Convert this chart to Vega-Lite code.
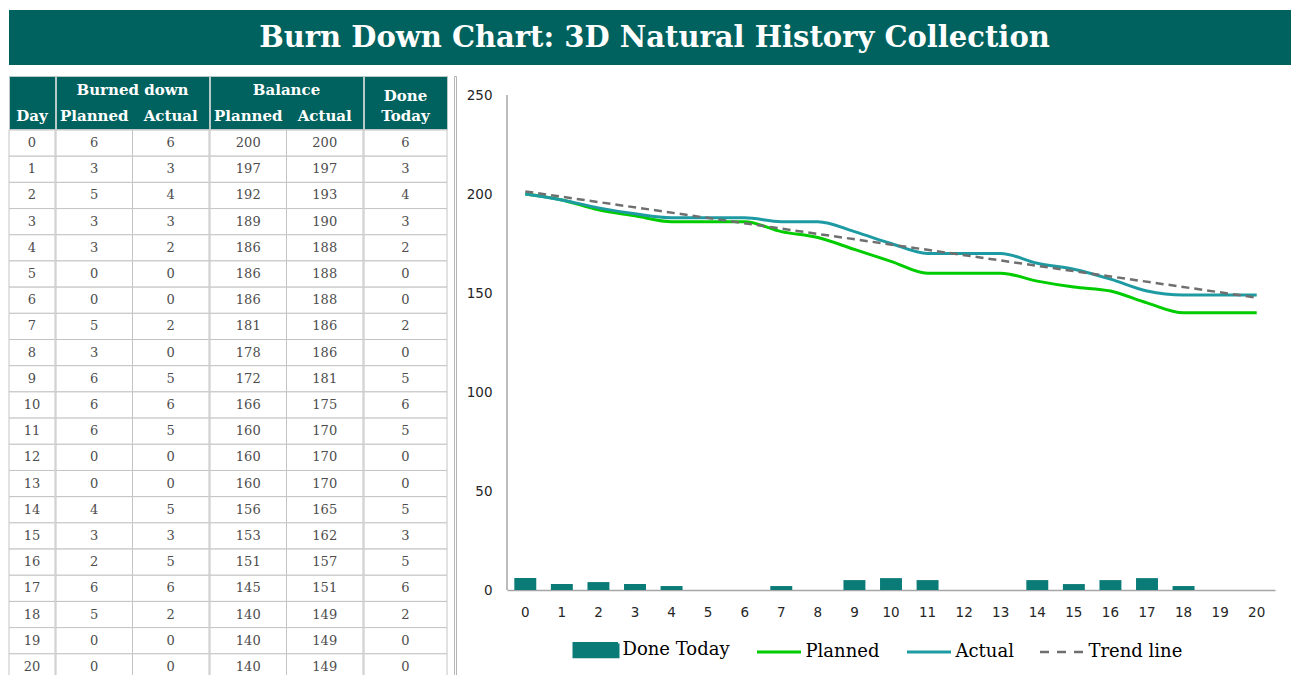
{
  "$schema": "https://vega.github.io/schema/vega-lite/v6.json",
  "padding": {"left": 8, "top": 10, "right": 0, "bottom": 0},
  "background": "white",
  "config": {"view": {"stroke": null}, "font": "DejaVu Sans"},
  "datasets": {
    "burn": [
      {"Day": 0, "BurnedPlanned": 6, "BurnedActual": 6, "BalancePlanned": 200, "BalanceActual": 200, "DoneToday": 6},
      {"Day": 1, "BurnedPlanned": 3, "BurnedActual": 3, "BalancePlanned": 197, "BalanceActual": 197, "DoneToday": 3},
      {"Day": 2, "BurnedPlanned": 5, "BurnedActual": 4, "BalancePlanned": 192, "BalanceActual": 193, "DoneToday": 4},
      {"Day": 3, "BurnedPlanned": 3, "BurnedActual": 3, "BalancePlanned": 189, "BalanceActual": 190, "DoneToday": 3},
      {"Day": 4, "BurnedPlanned": 3, "BurnedActual": 2, "BalancePlanned": 186, "BalanceActual": 188, "DoneToday": 2},
      {"Day": 5, "BurnedPlanned": 0, "BurnedActual": 0, "BalancePlanned": 186, "BalanceActual": 188, "DoneToday": 0},
      {"Day": 6, "BurnedPlanned": 0, "BurnedActual": 0, "BalancePlanned": 186, "BalanceActual": 188, "DoneToday": 0},
      {"Day": 7, "BurnedPlanned": 5, "BurnedActual": 2, "BalancePlanned": 181, "BalanceActual": 186, "DoneToday": 2},
      {"Day": 8, "BurnedPlanned": 3, "BurnedActual": 0, "BalancePlanned": 178, "BalanceActual": 186, "DoneToday": 0},
      {"Day": 9, "BurnedPlanned": 6, "BurnedActual": 5, "BalancePlanned": 172, "BalanceActual": 181, "DoneToday": 5},
      {"Day": 10, "BurnedPlanned": 6, "BurnedActual": 6, "BalancePlanned": 166, "BalanceActual": 175, "DoneToday": 6},
      {"Day": 11, "BurnedPlanned": 6, "BurnedActual": 5, "BalancePlanned": 160, "BalanceActual": 170, "DoneToday": 5},
      {"Day": 12, "BurnedPlanned": 0, "BurnedActual": 0, "BalancePlanned": 160, "BalanceActual": 170, "DoneToday": 0},
      {"Day": 13, "BurnedPlanned": 0, "BurnedActual": 0, "BalancePlanned": 160, "BalanceActual": 170, "DoneToday": 0},
      {"Day": 14, "BurnedPlanned": 4, "BurnedActual": 5, "BalancePlanned": 156, "BalanceActual": 165, "DoneToday": 5},
      {"Day": 15, "BurnedPlanned": 3, "BurnedActual": 3, "BalancePlanned": 153, "BalanceActual": 162, "DoneToday": 3},
      {"Day": 16, "BurnedPlanned": 2, "BurnedActual": 5, "BalancePlanned": 151, "BalanceActual": 157, "DoneToday": 5},
      {"Day": 17, "BurnedPlanned": 6, "BurnedActual": 6, "BalancePlanned": 145, "BalanceActual": 151, "DoneToday": 6},
      {"Day": 18, "BurnedPlanned": 5, "BurnedActual": 2, "BalancePlanned": 140, "BalanceActual": 149, "DoneToday": 2},
      {"Day": 19, "BurnedPlanned": 0, "BurnedActual": 0, "BalancePlanned": 140, "BalanceActual": 149, "DoneToday": 0},
      {"Day": 20, "BurnedPlanned": 0, "BurnedActual": 0, "BalancePlanned": 140, "BalanceActual": 149, "DoneToday": 0}
    ]
  },
  "spacing": 10,
  "vconcat": [
    {
      "width": 1283,
      "height": 55,
      "view": {"fill": "#00625e", "stroke": null},
      "data": {"values": [{"t": "Burn Down Chart: 3D Natural History Collection"}]},
      "mark": {"type": "text", "font": "DejaVu Serif", "fontWeight": "bold", "fontSize": 29, "fill": "white", "baseline": "middle", "align": "center", "dx": 4},
      "encoding": {"text": {"field": "t", "type": "nominal"}}
    },
    {
      "hconcat": [
        {
          "hconcat": [
            {
              "hconcat": [
                {
                  "vconcat": [
                    {
                      "width": 46, "height": 53,
                      "view": {"fill": "#00625e", "stroke": "#b9c9c8"},
                      "data": {"values": [{"row": "h2", "label": "Day"}]},
                      "mark": {"type": "text", "font": "DejaVu Serif", "fontWeight": "bold", "fontSize": 15, "fill": "white", "baseline": "middle"},
                      "encoding": {
                        "y": {"field": "row", "type": "nominal", "scale": {"domain": ["h1", "h2"]}, "axis": null},
                        "text": {"field": "label", "type": "nominal"}
                      }
                    },
                    {
                      "width": 46, "height": 550,
                      "data": {"name": "burn"},
                      "encoding": {"y": {"field": "Day", "type": "ordinal", "axis": null}},
                      "layer": [
                        {"mark": {"type": "rect", "fill": "white", "stroke": "#c4c4c4", "strokeWidth": 1}},
                        {"mark": {"type": "text", "font": "DejaVu Serif", "fontSize": 13, "fill": "#4d4d4d", "baseline": "middle"},
                         "encoding": {"text": {"field": "Day", "type": "ordinal"}}}
                      ]
                    }
                  ],
                  "spacing": -1
                },
                {
                  "vconcat": [
                    {
                      "width": 153, "height": 53,
                      "view": {"fill": "#00625e", "stroke": "#b9c9c8"},
                      "layer": [
                        {
                          "data": {"values": [{"row": "h1", "label": "Burned down"}]},
                          "mark": {"type": "text", "font": "DejaVu Serif", "fontWeight": "bold", "fontSize": 15, "fill": "white", "baseline": "middle", "dy": 1},
                          "encoding": {
                            "y": {"field": "row", "type": "nominal", "scale": {"domain": ["h1", "h2"]}, "axis": null},
                            "text": {"field": "label", "type": "nominal"}
                          }
                        },
                        {
                          "data": {"values": [{"row": "h2", "col": "BurnedPlanned", "label": "Planned"}, {"row": "h2", "col": "BurnedActual", "label": "Actual"}]},
                          "mark": {"type": "text", "font": "DejaVu Serif", "fontWeight": "bold", "fontSize": 15, "fill": "white", "baseline": "middle"},
                          "encoding": {
                            "x": {"field": "col", "type": "nominal", "sort": ["BurnedPlanned", "BurnedActual"], "axis": null},
                            "y": {"field": "row", "type": "nominal", "scale": {"domain": ["h1", "h2"]}, "axis": null},
                            "text": {"field": "label", "type": "nominal"}
                          }
                        }
                      ]
                    },
                    {
                      "width": 153, "height": 550,
                      "data": {"name": "burn"},
                      "transform": [{"fold": ["BurnedPlanned", "BurnedActual"], "as": ["col", "val"]}],
                      "encoding": {
                        "x": {"field": "col", "type": "nominal", "sort": ["BurnedPlanned", "BurnedActual"], "axis": null},
                        "y": {"field": "Day", "type": "ordinal", "axis": null}
                      },
                      "layer": [
                        {"mark": {"type": "rect", "fill": "white", "stroke": "#c4c4c4", "strokeWidth": 1}},
                        {"mark": {"type": "text", "font": "DejaVu Serif", "fontSize": 13, "fill": "#4d4d4d", "baseline": "middle"},
                         "encoding": {"text": {"field": "val", "type": "quantitative"}}}
                      ]
                    }
                  ],
                  "spacing": -1
                },
                {
                  "vconcat": [
                    {
                      "width": 153, "height": 53,
                      "view": {"fill": "#00625e", "stroke": "#b9c9c8"},
                      "layer": [
                        {
                          "data": {"values": [{"row": "h1", "label": "Balance"}]},
                          "mark": {"type": "text", "font": "DejaVu Serif", "fontWeight": "bold", "fontSize": 15, "fill": "white", "baseline": "middle", "dy": 1},
                          "encoding": {
                            "y": {"field": "row", "type": "nominal", "scale": {"domain": ["h1", "h2"]}, "axis": null},
                            "text": {"field": "label", "type": "nominal"}
                          }
                        },
                        {
                          "data": {"values": [{"row": "h2", "col": "BalancePlanned", "label": "Planned"}, {"row": "h2", "col": "BalanceActual", "label": "Actual"}]},
                          "mark": {"type": "text", "font": "DejaVu Serif", "fontWeight": "bold", "fontSize": 15, "fill": "white", "baseline": "middle"},
                          "encoding": {
                            "x": {"field": "col", "type": "nominal", "sort": ["BalancePlanned", "BalanceActual"], "axis": null},
                            "y": {"field": "row", "type": "nominal", "scale": {"domain": ["h1", "h2"]}, "axis": null},
                            "text": {"field": "label", "type": "nominal"}
                          }
                        }
                      ]
                    },
                    {
                      "width": 153, "height": 550,
                      "data": {"name": "burn"},
                      "transform": [{"fold": ["BalancePlanned", "BalanceActual"], "as": ["col", "val"]}],
                      "encoding": {
                        "x": {"field": "col", "type": "nominal", "sort": ["BalancePlanned", "BalanceActual"], "axis": null},
                        "y": {"field": "Day", "type": "ordinal", "axis": null}
                      },
                      "layer": [
                        {"mark": {"type": "rect", "fill": "white", "stroke": "#c4c4c4", "strokeWidth": 1}},
                        {"mark": {"type": "text", "font": "DejaVu Serif", "fontSize": 13, "fill": "#4d4d4d", "baseline": "middle"},
                         "encoding": {"text": {"field": "val", "type": "quantitative"}}}
                      ]
                    }
                  ],
                  "spacing": -1
                },
                {
                  "vconcat": [
                    {
                      "width": 83, "height": 53,
                      "view": {"fill": "#00625e", "stroke": "#b9c9c8"},
                      "data": {"values": [{"row": "h1", "label": "Done"}, {"row": "h2", "label": "Today"}]},
                      "layer": [
                        {
                          "transform": [{"filter": "datum.row === 'h1'"}],
                          "mark": {"type": "text", "font": "DejaVu Serif", "fontWeight": "bold", "fontSize": 15, "fill": "white", "baseline": "middle", "dy": 7},
                          "encoding": {
                            "y": {"field": "row", "type": "nominal", "scale": {"domain": ["h1", "h2"]}, "axis": null},
                            "text": {"field": "label", "type": "nominal"}
                          }
                        },
                        {
                          "transform": [{"filter": "datum.row === 'h2'"}],
                          "mark": {"type": "text", "font": "DejaVu Serif", "fontWeight": "bold", "fontSize": 15, "fill": "white", "baseline": "middle"},
                          "encoding": {
                            "y": {"field": "row", "type": "nominal", "scale": {"domain": ["h1", "h2"]}, "axis": null},
                            "text": {"field": "label", "type": "nominal"}
                          }
                        }
                      ]
                    },
                    {
                      "width": 83, "height": 550,
                      "data": {"name": "burn"},
                      "encoding": {"y": {"field": "Day", "type": "ordinal", "axis": null}},
                      "layer": [
                        {"mark": {"type": "rect", "fill": "white", "stroke": "#c4c4c4", "strokeWidth": 1}},
                        {"mark": {"type": "text", "font": "DejaVu Serif", "fontSize": 13, "fill": "#4d4d4d", "baseline": "middle"},
                         "encoding": {"text": {"field": "DoneToday", "type": "quantitative"}}}
                      ]
                    }
                  ],
                  "spacing": -1
                }
              ],
              "spacing": -1
            },
            {
              "width": 2, "height": 620,
              "view": {"fill": null, "stroke": "#b4b4b4"},
              "data": {"values": [{}]},
              "mark": {"type": "point", "opacity": 0}
            }
          ],
          "spacing": 3
        },
        {
          "width": 768,
          "height": 514,
          "data": {"name": "burn"},
          "encoding": {
            "x": {
              "field": "Day", "type": "ordinal",
              "scale": {"paddingInner": 0, "paddingOuter": 0},
              "axis": {"title": null, "labelAngle": 0, "ticks": false, "grid": false, "domainColor": "#a6a6a6", "domainWidth": 1.5, "labelPadding": 15, "labelFont": "DejaVu Sans", "labelFontSize": 13.5, "labelColor": "#262626"}
            }
          },
          "layer": [
            {
              "mark": {"type": "bar", "width": {"band": 0.6}},
              "encoding": {
                "y": {"field": "DoneToday", "type": "quantitative", "scale": {"domain": [0, 259.6], "nice": false},
                      "axis": {"title": null, "values": [0, 50, 100, 150, 200, 250], "ticks": false, "grid": false, "domain": false, "labelPadding": 15, "labelFont": "DejaVu Sans", "labelFontSize": 13.5, "labelColor": "#262626"}},
                "color": {
                  "datum": "Done Today", "type": "nominal",
                  "scale": {"domain": ["Done Today", "Planned", "Actual", "Trend line"], "range": ["#0b7b78", "#00cc00", "#1e9ba2", "#6f6f6f"]},
                  "legend": {
                    "title": null, "orient": "none", "legendX": 578, "legendY": 631, "direction": "horizontal",
                    "symbolSize": 1936, "labelFont": "DejaVu Serif", "labelFontSize": 18, "labelColor": "#000000",
                    "columnPadding": 21, "labelOffset": 17.5,
                    "encode": {"symbols": {"update": {
                      "size": {"value": 1936},
                      "shape": {"signal": "datum.value === 'Done Today' ? 'M-1,-0.3H1V0.3H-1Z' : 'M-1,0H1'"},
                      "fill": {"signal": "datum.value === 'Done Today' ? '#0b7b78' : 'transparent'"},
                      "stroke": {"signal": "datum.value === 'Done Today' ? 'transparent' : datum.value === 'Planned' ? '#00cc00' : datum.value === 'Actual' ? '#1e9ba2' : '#6f6f6f'"},
                      "strokeDash": {"signal": "datum.value === 'Trend line' ? [9, 8] : [1, 0]"},
                      "strokeWidth": {"signal": "datum.value === 'Trend line' ? 2.5 : 3"},
                      "opacity": {"value": 1}
                    }}}
                  }
                }
              }
            },
            {
              "mark": {"type": "line", "strokeWidth": 3, "interpolate": "monotone"},
              "encoding": {
                "y": {"field": "BalancePlanned", "type": "quantitative"},
                "color": {"datum": "Planned", "type": "nominal"}
              }
            },
            {
              "mark": {"type": "line", "strokeWidth": 3, "interpolate": "monotone"},
              "encoding": {
                "y": {"field": "BalanceActual", "type": "quantitative"},
                "color": {"datum": "Actual", "type": "nominal"}
              }
            },
            {
              "transform": [{"regression": "BalanceActual", "on": "Day"}],
              "mark": {"type": "line", "strokeWidth": 2.5, "strokeDash": [8, 5]},
              "encoding": {
                "y": {"field": "BalanceActual", "type": "quantitative"},
                "color": {"datum": "Trend line", "type": "nominal"}
              }
            },
            {
              "data": {"values": [{}]},
              "mark": {"type": "rule", "color": "#a6a6a6", "strokeWidth": 1.5},
              "encoding": {
                "x": {"datum": 0, "type": "ordinal", "bandPosition": 0},
                "y": {"datum": 0, "type": "quantitative"},
                "y2": {"datum": 250}
              }
            }
          ]
        }
      ],
      "spacing": 7
    }
  ]
}
